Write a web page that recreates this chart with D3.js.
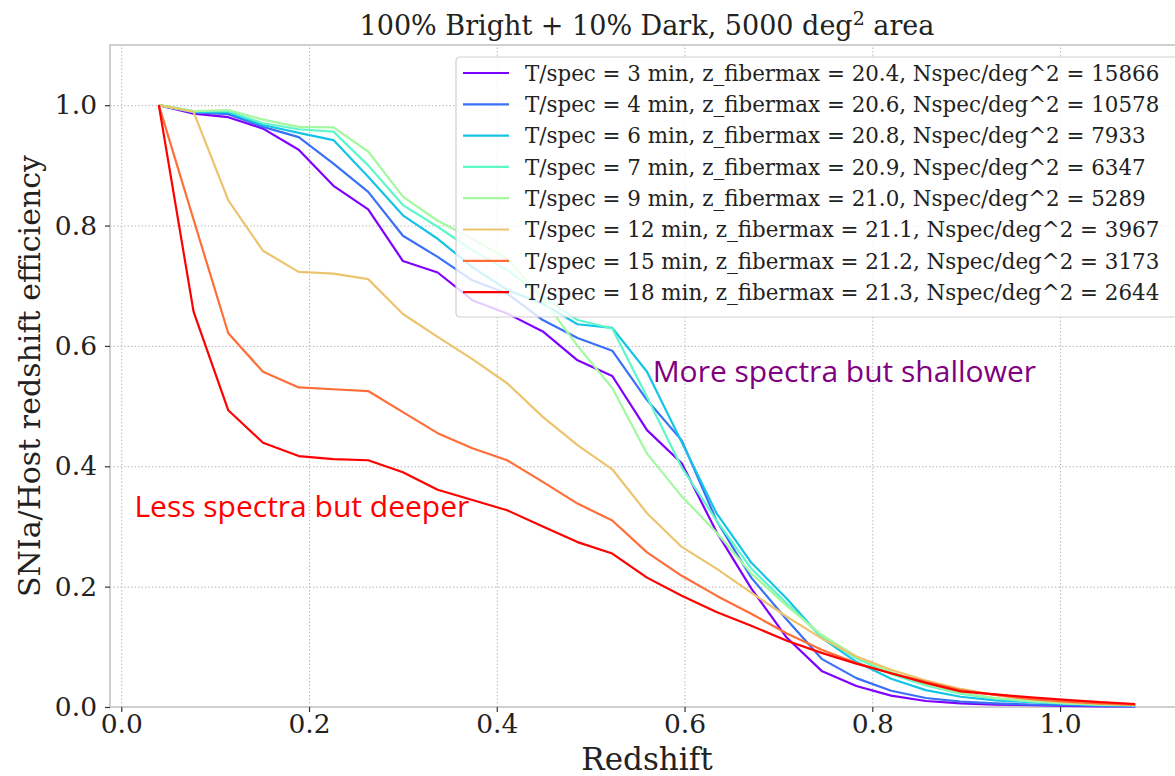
<!DOCTYPE html>
<html>

<head>
	<title>SNIa host redshift efficiency</title>
	<script src="https://d3js.org/d3.v7.min.js"></script>
	<style>
		body {
			margin: 0;
			background-color: #fff;
		}
		.axis text {
			font-family: 'DejaVu Serif', serif;
			font-size: 26.5px;
			fill: #222;
		}
		.axis line {
			stroke: #333;
			stroke-width: 1.2;
		}
		.grid line {
			stroke: #b8b8b8;
			stroke-width: 1;
			stroke-dasharray: 1.5,2;
		}
		.label {
			font-family: 'DejaVu Serif', serif;
			fill: #222;
		}
		.note {
			font-family: 'Open Sans', 'Noto Sans', sans-serif;
			font-size: 30px;
		}
		.legend text {
			font-family: 'DejaVu Serif', serif;
			font-size: 21.4px;
			fill: #222;
		}
	</style>
</head>

<body>
	<div id="chart"></div>
</body>

<script>

	// Redshift bin centres.
	const redshift = [0.040, 0.077, 0.114, 0.151, 0.189, 0.226, 0.263, 0.300, 0.337, 0.374,
		0.411, 0.449, 0.486, 0.523, 0.560, 0.597, 0.634, 0.671, 0.709, 0.746,
		0.783, 0.820, 0.857, 0.894, 0.931, 0.969, 1.006, 1.043, 1.080];

	// Exposure settings, one per curve.
	const tspec = [3, 4, 6, 7, 9, 12, 15, 18];
	const zFibermax = ['20.4', '20.6', '20.8', '20.9', '21.0', '21.1', '21.2', '21.3'];
	const nspec = [15866, 10578, 7933, 6347, 5289, 3967, 3173, 2644];

	// Efficiency per redshift bin.
	const eff3 = [1.0, 0.986, 0.980, 0.961, 0.926, 0.866, 0.827, 0.741, 0.722, 0.676,
		0.654, 0.624, 0.576, 0.550, 0.460, 0.405, 0.291, 0.197, 0.115, 0.060,
		0.035, 0.019, 0.010, 0.006, 0.004, 0.003, 0.002, 0.001, 0.001];
	const eff4 = [1.0, 0.988, 0.985, 0.964, 0.947, 0.903, 0.856, 0.783, 0.748, 0.709,
		0.687, 0.643, 0.613, 0.592, 0.510, 0.443, 0.310, 0.215, 0.145, 0.080,
		0.048, 0.027, 0.015, 0.009, 0.006, 0.004, 0.003, 0.002, 0.001];
	const eff6 = [1.0, 0.989, 0.988, 0.967, 0.954, 0.942, 0.881, 0.817, 0.778, 0.731,
		0.693, 0.670, 0.636, 0.630, 0.557, 0.440, 0.322, 0.240, 0.180, 0.115,
		0.075, 0.047, 0.028, 0.017, 0.011, 0.008, 0.005, 0.003, 0.002];
	const eff7 = [1.0, 0.990, 0.990, 0.970, 0.960, 0.956, 0.900, 0.834, 0.798, 0.759,
		0.726, 0.682, 0.643, 0.629, 0.515, 0.398, 0.310, 0.230, 0.172, 0.117,
		0.081, 0.055, 0.036, 0.022, 0.014, 0.009, 0.006, 0.004, 0.003];
	const eff9 = [1.0, 0.990, 0.992, 0.976, 0.964, 0.963, 0.923, 0.848, 0.808, 0.778,
		0.745, 0.678, 0.600, 0.530, 0.421, 0.350, 0.290, 0.222, 0.168, 0.120,
		0.084, 0.058, 0.038, 0.024, 0.015, 0.010, 0.006, 0.004, 0.003];
	const eff12 = [1.0, 0.989, 0.842, 0.758, 0.723, 0.720, 0.711, 0.653, 0.615, 0.578,
		0.538, 0.482, 0.435, 0.395, 0.322, 0.266, 0.230, 0.190, 0.150, 0.114,
		0.084, 0.062, 0.044, 0.030, 0.020, 0.013, 0.008, 0.005, 0.003];
	const eff15 = [1.0, 0.810, 0.621, 0.557, 0.531, 0.528, 0.525, 0.490, 0.455, 0.430,
		0.410, 0.374, 0.338, 0.310, 0.257, 0.218, 0.185, 0.155, 0.122, 0.095,
		0.073, 0.056, 0.042, 0.028, 0.020, 0.013, 0.009, 0.006, 0.004];
	const eff18 = [1.0, 0.657, 0.493, 0.439, 0.417, 0.412, 0.410, 0.390, 0.361, 0.344,
		0.327, 0.300, 0.274, 0.255, 0.215, 0.185, 0.158, 0.135, 0.110, 0.090,
		0.072, 0.056, 0.040, 0.026, 0.021, 0.016, 0.012, 0.008, 0.005];

	const xTicks = [0.0, 0.2, 0.4, 0.6, 0.8, 1.0];
	const yTicks = [0.0, 0.2, 0.4, 0.6, 0.8, 1.0];

	// Rainbow colour map sampled at 8 steps.
	const colors = ['#8000ff', '#3a6ff8', '#14c4e6', '#5ef8c8', '#a4f89f', '#ecc46e', '#ff6e38', '#ff0000'];

	const efficiencies = [eff3, eff4, eff6, eff7, eff9, eff12, eff15, eff18];
	const series = tspec.map((t, i) => ({
		label: `T/spec = ${t} min, z_fibermax = ${zFibermax[i]}, Nspec/deg^2 = ${nspec[i]}`,
		color: colors[i],
		values: redshift.map((z, j) => ({z: z, eff: efficiencies[i][j]})),
	}));

	// Plot frame in page pixels (the right edge runs off the page like the original).
	const width = 1175;
	const height = 776;
	const frame = {left: 110, top: 45, right: 1184, bottom: 707};

	const svg = d3.select('#chart')
		.append('svg')
			.attr('width', width)
			.attr('height', height);

	const x = d3.scaleLinear()
		.domain([-0.012, 1.132])
		.range([frame.left, frame.right]);
	const y = d3.scaleLinear()
		.domain([0, 1.1])
		.range([frame.bottom, frame.top]);

	// Gridlines.
	svg.append('g')
		.attr('class', 'grid')
		.attr('transform', 'translate(0,' + frame.bottom + ')')
		.call(d3.axisBottom(x).tickValues(xTicks).tickSize(-(frame.bottom - frame.top)).tickFormat(''))
		.call(g => g.select('.domain').remove());
	svg.append('g')
		.attr('class', 'grid')
		.attr('transform', 'translate(' + frame.left + ',0)')
		.call(d3.axisLeft(y).tickValues(yTicks).tickSize(-(frame.right - frame.left)).tickFormat(''))
		.call(g => g.select('.domain').remove());

	// Frame.
	svg.append('rect')
		.attr('x', frame.left)
		.attr('y', frame.top)
		.attr('width', frame.right - frame.left)
		.attr('height', frame.bottom - frame.top)
		.attr('fill', 'none')
		.attr('stroke', '#cfcfcf')
		.attr('stroke-width', 2);

	// Axes.
	svg.append('g')
		.attr('class', 'axis')
		.attr('transform', 'translate(0,' + frame.bottom + ')')
		.call(d3.axisBottom(x).tickValues(xTicks).tickSize(5).tickPadding(2).tickFormat(d3.format('.1f')))
		.call(g => g.select('.domain').remove());
	svg.append('g')
		.attr('class', 'axis')
		.attr('transform', 'translate(' + frame.left + ',0)')
		.call(d3.axisLeft(y).tickValues(yTicks).tickSize(5).tickPadding(8).tickFormat(d3.format('.1f')))
		.call(g => g.select('.domain').remove());

	// Curves, purple first so red ends up on top.
	const line = d3.line()
		.x(d => x(d.z))
		.y(d => y(d.eff));
	svg.append('g')
		.selectAll('path')
		.data(series)
		.join('path')
			.attr('d', d => line(d.values))
			.attr('fill', 'none')
			.attr('stroke', d => d.color)
			.attr('stroke-width', 2.2)
			.attr('stroke-linejoin', 'round');

	// Annotations.
	svg.append('text')
		.attr('class', 'note')
		.attr('x', x(0.014))
		.attr('y', y(0.315))
		.attr('fill', '#ff0000')
		.text('Less spectra but deeper');
	svg.append('text')
		.attr('class', 'note')
		.attr('x', x(0.566))
		.attr('y', y(0.54))
		.attr('fill', '#800080')
		.text('More spectra but shallower');

	// Legend.
	const legend = svg.append('g')
		.attr('class', 'legend')
		.attr('transform', 'translate(456,57)');
	legend.append('rect')
		.attr('width', 740)
		.attr('height', 260)
		.attr('rx', 4)
		.attr('fill', '#fff')
		.attr('fill-opacity', 0.8)
		.attr('stroke', '#d0d0d0')
		.attr('stroke-width', 1.2);
	const rows = legend.selectAll('.row')
		.data(series)
		.join('g')
			.attr('class', 'row')
			.attr('transform', (d, i) => 'translate(0,' + (16 + i * 31.3) + ')');
	rows.append('line')
		.attr('x1', 7)
		.attr('x2', 53)
		.attr('stroke', d => d.color)
		.attr('stroke-width', 2.2);
	rows.append('text')
		.attr('x', 69)
		.attr('dy', '0.36em')
		.text(d => d.label);

	// Titles.
	const title = svg.append('text')
		.attr('class', 'label')
		.attr('x', 647)
		.attr('y', 35)
		.attr('text-anchor', 'middle')
		.style('font-size', '27px');
	title.append('tspan').text('100% Bright + 10% Dark, 5000 deg');
	title.append('tspan').attr('dy', -10).style('font-size', '19px').text('2');
	title.append('tspan').attr('dy', 10).text(' area');

	svg.append('text')
		.attr('class', 'label')
		.attr('x', 647)
		.attr('y', 770)
		.attr('text-anchor', 'middle')
		.style('font-size', '31px')
		.text('Redshift');

	svg.append('text')
		.attr('class', 'label')
		.attr('transform', 'translate(40,' + (frame.top + frame.bottom) / 2 + ') rotate(-90)')
		.attr('text-anchor', 'middle')
		.style('font-size', '30px')
		.text('SNIa/Host redshift efficiency');

</script>

</html>
